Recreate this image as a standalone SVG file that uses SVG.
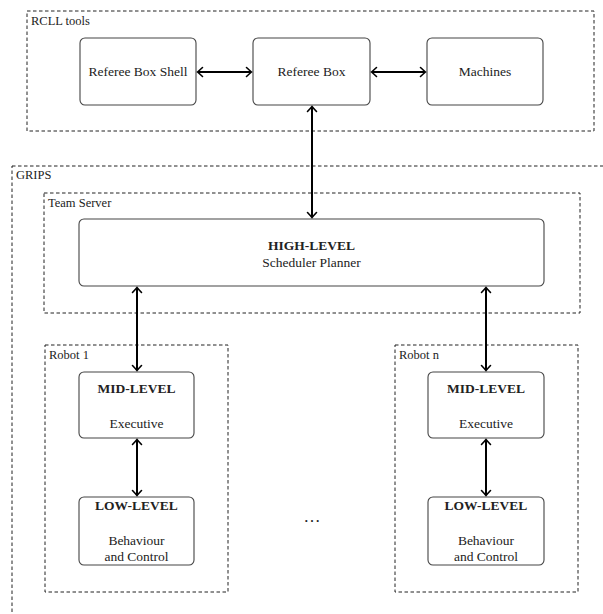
<svg xmlns="http://www.w3.org/2000/svg" width="603" height="614" viewBox="0 0 603 614">
<defs>
<style>
.grp{fill:none;stroke:#222;stroke-width:1;stroke-dasharray:3.5 2.5}
.box{fill:#fff;stroke:#444;stroke-width:1.1}
.t{font-family:"Liberation Serif","Times New Roman",serif;font-size:13.5px;fill:#222;text-anchor:middle}
.b{font-weight:bold}
.lbl{font-family:"Liberation Serif","Times New Roman",serif;font-size:12.5px;fill:#222}
.c{fill:none;stroke:#000;stroke-width:2}
</style>
<marker id="ah" viewBox="-6 -6 10 12" markerWidth="10" markerHeight="12" refX="0" refY="0" orient="auto-start-reverse" markerUnits="userSpaceOnUse">
<path d="M-4.5,-4.5 Q-1,-1.2 0.5,0 Q-1,1.2 -4.5,4.5" fill="none" stroke="#000" stroke-width="1.6" stroke-linecap="round"/>
</marker>
</defs>
<rect width="603" height="614" fill="#fff"/>
<g id="rcll-tools">
<rect class="grp" x="27" y="11" width="567" height="120"/>
<text class="lbl" x="31" y="25">RCLL tools</text>
</g>
<g id="grips">
<rect class="grp" x="12" y="166" width="600" height="460"/>
<text class="lbl" x="16" y="179">GRIPS</text>
</g>
<g id="team-server">
<rect class="grp" x="44" y="193" width="536" height="120"/>
<text class="lbl" x="48" y="207">Team Server</text>
</g>
<g id="robot-1">
<rect class="grp" x="45" y="345" width="183" height="247"/>
<text class="lbl" x="49" y="359">Robot 1</text>
</g>
<g id="robot-n">
<rect class="grp" x="395" y="345" width="183" height="247"/>
<text class="lbl" x="399" y="359">Robot n</text>
</g>
<g id="referee-box-shell">
<rect class="box" x="80" y="38" width="116" height="67" rx="5"/>
<text class="t" x="138" y="76">Referee Box Shell</text>
</g>
<g id="referee-box">
<rect class="box" x="253" y="38" width="117" height="67" rx="5"/>
<text class="t" x="311.5" y="76">Referee Box</text>
</g>
<g id="machines">
<rect class="box" x="427" y="38" width="116" height="67" rx="5"/>
<text class="t" x="485" y="76">Machines</text>
</g>
<g id="high-level">
<rect class="box" x="79" y="219" width="465" height="67" rx="5"/>
<text class="t b" x="311.5" y="250">HIGH-LEVEL</text>
<text class="t" x="311.5" y="267">Scheduler  Planner</text>
</g>
<g id="mid-level-1">
<rect class="box" x="79" y="372" width="115" height="66" rx="5"/>
<text class="t b" x="136.5" y="393">MID-LEVEL</text>
<text class="t" x="136.5" y="428">Executive</text>
</g>
<g id="low-level-1">
<rect class="box" x="79" y="497" width="115" height="68" rx="5"/>
<text class="t b" x="136.5" y="510">LOW-LEVEL</text>
<text class="t" x="136.5" y="545">Behaviour</text>
<text class="t" x="136.5" y="561">and Control</text>
</g>
<g id="mid-level-n">
<rect class="box" x="428" y="372" width="116" height="66" rx="5"/>
<text class="t b" x="486" y="393">MID-LEVEL</text>
<text class="t" x="486" y="428">Executive</text>
</g>
<g id="low-level-n">
<rect class="box" x="428" y="497" width="116" height="68" rx="5"/>
<text class="t b" x="486" y="510">LOW-LEVEL</text>
<text class="t" x="486" y="545">Behaviour</text>
<text class="t" x="486" y="561">and Control</text>
</g>
<g id="ellipsis">
<text class="t" x="312" y="522" style="font-size:17px">…</text>
</g>
<g id="connectors">
<line class="c" x1="198" y1="72" x2="251" y2="72" marker-start="url(#ah)" marker-end="url(#ah)"/>
<line class="c" x1="372" y1="72" x2="425" y2="72" marker-start="url(#ah)" marker-end="url(#ah)"/>
<line class="c" x1="312" y1="107" x2="312" y2="217" marker-start="url(#ah)" marker-end="url(#ah)"/>
<line class="c" x1="137" y1="288" x2="137" y2="370" marker-start="url(#ah)" marker-end="url(#ah)"/>
<line class="c" x1="486" y1="288" x2="486" y2="370" marker-start="url(#ah)" marker-end="url(#ah)"/>
<line class="c" x1="137" y1="440" x2="137" y2="495" marker-start="url(#ah)" marker-end="url(#ah)"/>
<line class="c" x1="486" y1="440" x2="486" y2="495" marker-start="url(#ah)" marker-end="url(#ah)"/>
</g>
</svg>
